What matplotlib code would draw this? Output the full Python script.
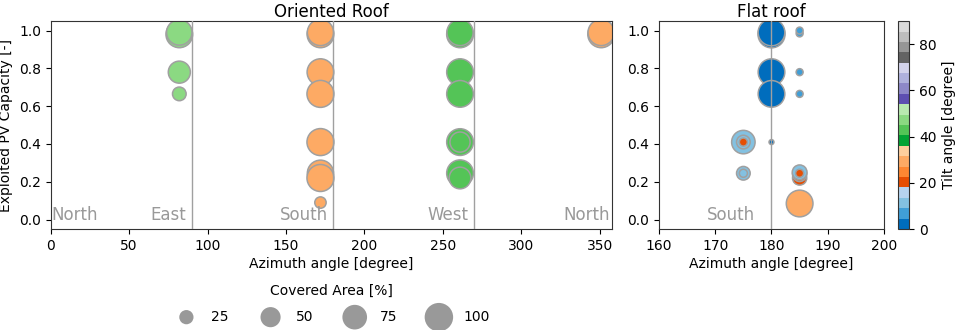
import matplotlib
matplotlib.use("Agg")
import matplotlib.pyplot as plt
import matplotlib.colors as mcolors
import numpy as np

# ---------------- data ----------------
# Oriented roof
oriented_azimuth = [82, 82, 82, 82,
                    172, 172, 172, 172, 172, 172, 172, 172,
                    261, 261, 261, 261, 261, 261, 261, 261,
                    351, 351]
oriented_capacity = [0.98, 0.99, 0.78, 0.665,
                     0.98, 0.99, 0.78, 0.665, 0.41, 0.245, 0.22, 0.09,
                     0.98, 0.99, 0.78, 0.665, 0.41, 0.41, 0.245, 0.22,
                     0.98, 0.99]
oriented_area = [88, 80, 60, 23,
                 88, 85, 88, 90, 90, 85, 90, 16,
                 88, 85, 88, 88, 88, 50, 88, 58,
                 88, 85]
oriented_tilt = [47, 47, 47, 47,
                 30, 30, 30, 30, 30, 30, 30, 30,
                 42, 42, 42, 42, 42, 42, 42, 42,
                 30, 30]

# Flat roof
flat_azimuth = [180, 180, 180, 180, 180,
                185, 185, 185, 185,
                175, 175, 175, 175, 175,
                185, 185, 185, 185, 185, 185]
flat_capacity = [0.98, 0.99, 0.78, 0.665, 0.41,
                 0.985, 1.0, 0.78, 0.665,
                 0.41, 0.41, 0.41, 0.245, 0.245,
                 0.085, 0.22, 0.235, 0.24, 0.25, 0.245]
flat_area = [90, 88, 88, 88, 3,
             6, 6, 6, 6,
             68, 23, 8, 23, 8,
             88, 25, 20, 25, 27, 8]
flat_tilt = [0, 0, 0, 0, 0,
             6, 6, 6, 6,
             11, 11, 20, 11, 11,
             30, 20, 11, 20, 11, 20]

directions = ["North", "East", "South", "West", "North"]
direction_angles = [0, 90, 180, 270, 360]
legend_areas = [25, 50, 75, 100]

# ---------------- style ----------------
SIZE_K = 4.2
EDGE = "#a0a0a0"
LINE = "#a0a0a0"
base = plt.get_cmap("tab20c")
hsv = mcolors.rgb_to_hsv(np.array(base.colors)[:, :3])
is_orange = (hsv[:, 0] > 0.03) & (hsv[:, 0] < 0.12)
hsv[:, 1] = np.clip(hsv[:, 1] * np.where(is_orange, 1.05, 1.4), 0, 1)
cmap = mcolors.ListedColormap(mcolors.hsv_to_rgb(hsv), name="tab20c_boost")
norm = mcolors.Normalize(vmin=0, vmax=90)

plt.rcParams["font.family"] = ["DejaVu Sans"]
plt.rcParams["font.size"] = 10

fig = plt.figure(figsize=(9.55, 3.3), dpi=100)
ax1 = fig.add_axes([0.0531, 0.306, 0.641 - 0.0531, 0.630])
ax2 = fig.add_axes([0.690, 0.306, 0.9257 - 0.690, 0.630])
cax = fig.add_axes([0.940, 0.306, 0.012, 0.630])

# Oriented
ax1.scatter(oriented_azimuth, oriented_capacity,
            s=np.array(oriented_area) * SIZE_K,
            c=oriented_tilt, cmap=cmap, norm=norm,
            edgecolors=EDGE, linewidths=1.1, zorder=2)
for a in [90, 180, 270]:
    ax1.axvline(a, color=LINE, lw=1.0, zorder=3)
ax1.text(0.5, 0.0, directions[0], ha="left", va="baseline",
         color="#999999", fontsize=12)
for name, ang in zip(directions[1:], direction_angles[1:]):
    ax1.text(ang - 3.5, 0.0, name, ha="right", va="baseline",
             color="#999999", fontsize=12)
ax1.set_xlim(0, 358)
ax1.set_ylim(-0.05, 1.05)
ax1.set_xticks([0, 50, 100, 150, 200, 250, 300, 350])
ax1.set_yticks([0.0, 0.2, 0.4, 0.6, 0.8, 1.0])
ax1.set_xlabel("Azimuth angle [degree]", labelpad=3)
ax1.set_ylabel("Exploited PV Capacity [-]")
ax1.set_title("Oriented Roof", fontsize=12, pad=3)

# Flat
ax2.scatter(flat_azimuth, flat_capacity,
            s=np.array(flat_area) * SIZE_K,
            c=flat_tilt, cmap=cmap, norm=norm,
            edgecolors=EDGE, linewidths=1.1, zorder=2)
ax2.axvline(180, color=LINE, lw=1.0, zorder=3)
ax2.text(177, 0.0, "South", ha="right", va="baseline",
         color="#999999", fontsize=12)
ax2.set_xlim(160, 200)
ax2.set_ylim(-0.05, 1.05)
ax2.set_xticks([160, 170, 180, 190, 200])
ax2.set_yticks([0.0, 0.2, 0.4, 0.6, 0.8, 1.0])
ax2.set_xlabel("Azimuth angle [degree]", labelpad=3)
ax2.set_title("Flat roof", fontsize=12, pad=3)

for ax in (ax1, ax2):
    for sp in ax.spines.values():
        sp.set_color("#333333")
        sp.set_linewidth(0.8)

# Colorbar
sm = matplotlib.cm.ScalarMappable(norm=norm, cmap=cmap)
cb = fig.colorbar(sm, cax=cax)
cb.set_ticks([0, 20, 40, 60, 80])
cb.set_label("Tilt angle [degree]")
cb.outline.set_edgecolor("#333333")
cb.outline.set_linewidth(0.8)

# Size legend
handles = [ax1.scatter([], [], s=a * SIZE_K, color="#999999", edgecolors="none")
           for a in legend_areas]
fig.legend(handles, [str(a) for a in legend_areas],
           title="Covered Area [%]", loc="upper center",
           bbox_to_anchor=(0.347, 1 - 284 / 330), ncol=4, frameon=False,
           handletextpad=0.8, columnspacing=2.0, title_fontsize=10,
           fontsize=10, borderaxespad=0.0, borderpad=0.0, labelspacing=0.85)

fig.savefig("out.png", dpi=100)
